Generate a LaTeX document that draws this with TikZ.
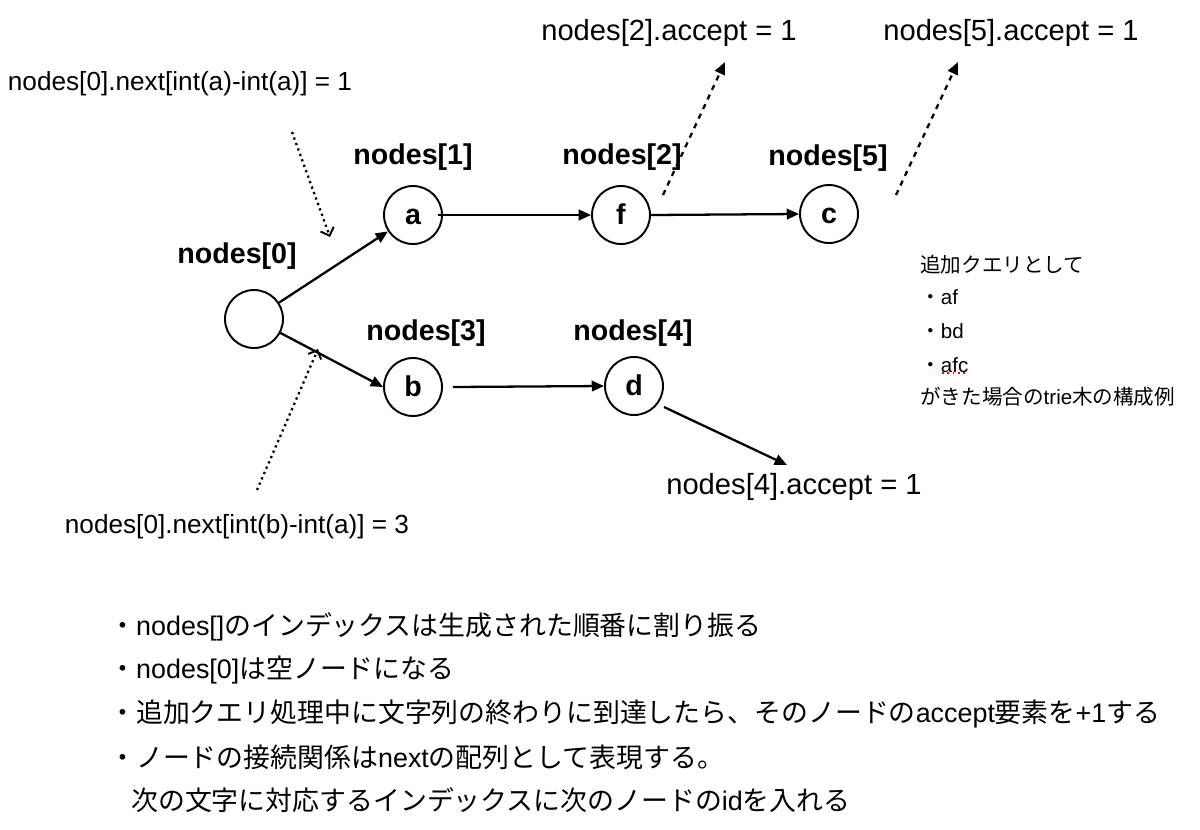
\documentclass[tikz,border=0pt]{standalone}
\usepackage{fontspec}
\setmainfont{Liberation Sans}
\newfontfamily\cjk{Noto Sans CJK JP}
\usetikzlibrary{arrows.meta}
\newcommand\J[1]{{\cjk #1}}
\begin{document}
\begin{tikzpicture}[x=0.02cm,y=-0.02cm,
  st/.style={circle,draw,line width=1.1pt,minimum size=1.16cm,inner sep=0pt,text height=11.3pt,text depth=0pt,font=\fontsize{16.3}{19}\selectfont\bfseries},
  lbl/.style={font=\fontsize{16.3}{19}\selectfont\bfseries,inner sep=0pt},
  acc/.style={font=\fontsize{16.6}{19}\selectfont,inner sep=0pt},
  nxt/.style={font=\fontsize{14.9}{18}\selectfont,inner sep=0pt},
  body/.style={font=\fontsize{15.3}{18}\selectfont,inner sep=0pt,anchor=west},
  side/.style={font=\fontsize{11.7}{14}\selectfont,inner sep=0pt,anchor=west},
  edgeline/.style={line width=1.3pt,-{Triangle[length=7pt,width=6pt]}},
  dotline/.style={line width=1.3pt,dotted,-{Straight Barb[length=4pt,width=8pt,line width=1.1pt]}},
  dshline/.style={line width=1.3pt,dash pattern=on 3pt off 3pt,-{Triangle[length=7pt,width=6pt]}}
]
\fill[white] (0,0) rectangle (1200,829);
\useasboundingbox (0,0) rectangle (1200,829);

% states
\node[st] (n0) at (254,319) {};
\node[st] (a) at (413,215) {a};
\node[st] (f) at (621,215) {f};
\node[st] (c) at (829,214) {c};
\node[st] (b) at (413,387) {b};
\node[st] (d) at (634,386) {d};

% bold labels
\node[lbl] (l0) at (237,256) {nodes[0]};
\node[lbl] (l1) at (413,157) {nodes[1]};
\node[lbl] (l2) at (622,157) {nodes[2]};
\node[lbl] (l5) at (828,158) {nodes[5]};
\node[lbl] (l3) at (426,333) {nodes[3]};
\node[lbl] (l4) at (633,333) {nodes[4]};

% annotations
\node[acc] (acc2) at (669,33) {nodes[2].accept = 1};
\node[acc] (acc5) at (1011,33) {nodes[5].accept = 1};
\node[acc] (acc4) at (794,487) {nodes[4].accept = 1};
\node[nxt] (nx1) at (180,84) {nodes[0].next[int(a)-int(a)] = 1};
\node[nxt] (nx2) at (237,527) {nodes[0].next[int(b)-int(a)] = 3};

% edges
\draw[edgeline] (n0) -- (a);
\draw[edgeline] (n0) -- (b.west);
\draw[edgeline] ([xshift=-3pt]a.east) -- (f.west);
\draw[edgeline] (f.east) -- (c.west);
\draw[edgeline] ([xshift=10*0.02cm]b.east) -- (d.west);
\coordinate (d4tip) at (787,465);
\draw[edgeline] ([shift={(30,21)}]d.center) -- (d4tip);

% dotted pointers
\coordinate (p1s) at (292,132);
\coordinate (p1e) at (330,237);
\draw[dotline] (p1s) -- (p1e);
\coordinate (p2s) at (257,490);
\coordinate (p2e) at (318,349);
\draw[dotline] (p2s) -- (p2e);

% dashed pointers
\coordinate (q1s) at (663,195);
\coordinate (q1e) at (725,62);
\draw[dshline] (q1s) -- (q1e);
\coordinate (q2s) at (896,195);
\coordinate (q2e) at (958,62);
\draw[dshline] (q2s) -- (q2e);

% side note
\node[side] (s1) at (920,265) {\J{追加クエリとして}};
\node[side] (s2) at (920,297) {\J{・}af};
\node[side] (s3) at (920,331) {\J{・}bd};
\node[side] (s4) at (920,365) {\J{・}afc};
\draw[red,dotted,line width=1pt] (942,373) -- (968,373);
\node[side] (s5) at (920,397) {\J{がきた場合の}trie\J{木の構成例}};

% body text
\node[body] (t1) at (109,627) {\J{・}nodes[]\J{のインデックスは生成された順番に割り振る}};
\node[body] (t2) at (109,670) {\J{・}nodes[0]\J{は空ノードになる}};
\node[body] (t3) at (109,714) {\J{・追加クエリ処理中に文字列の終わりに到達したら、そのノードの}accept\J{要素を}+1\J{する}};
\node[body] (t4) at (109,757) {\J{・ノードの接続関係は}next\J{の配列として表現する。}};
\node[body] (t5) at (131,800) {\J{次の文字に対応するインデックスに次のノードの}id\J{を入れる}};
\end{tikzpicture}
\end{document}
